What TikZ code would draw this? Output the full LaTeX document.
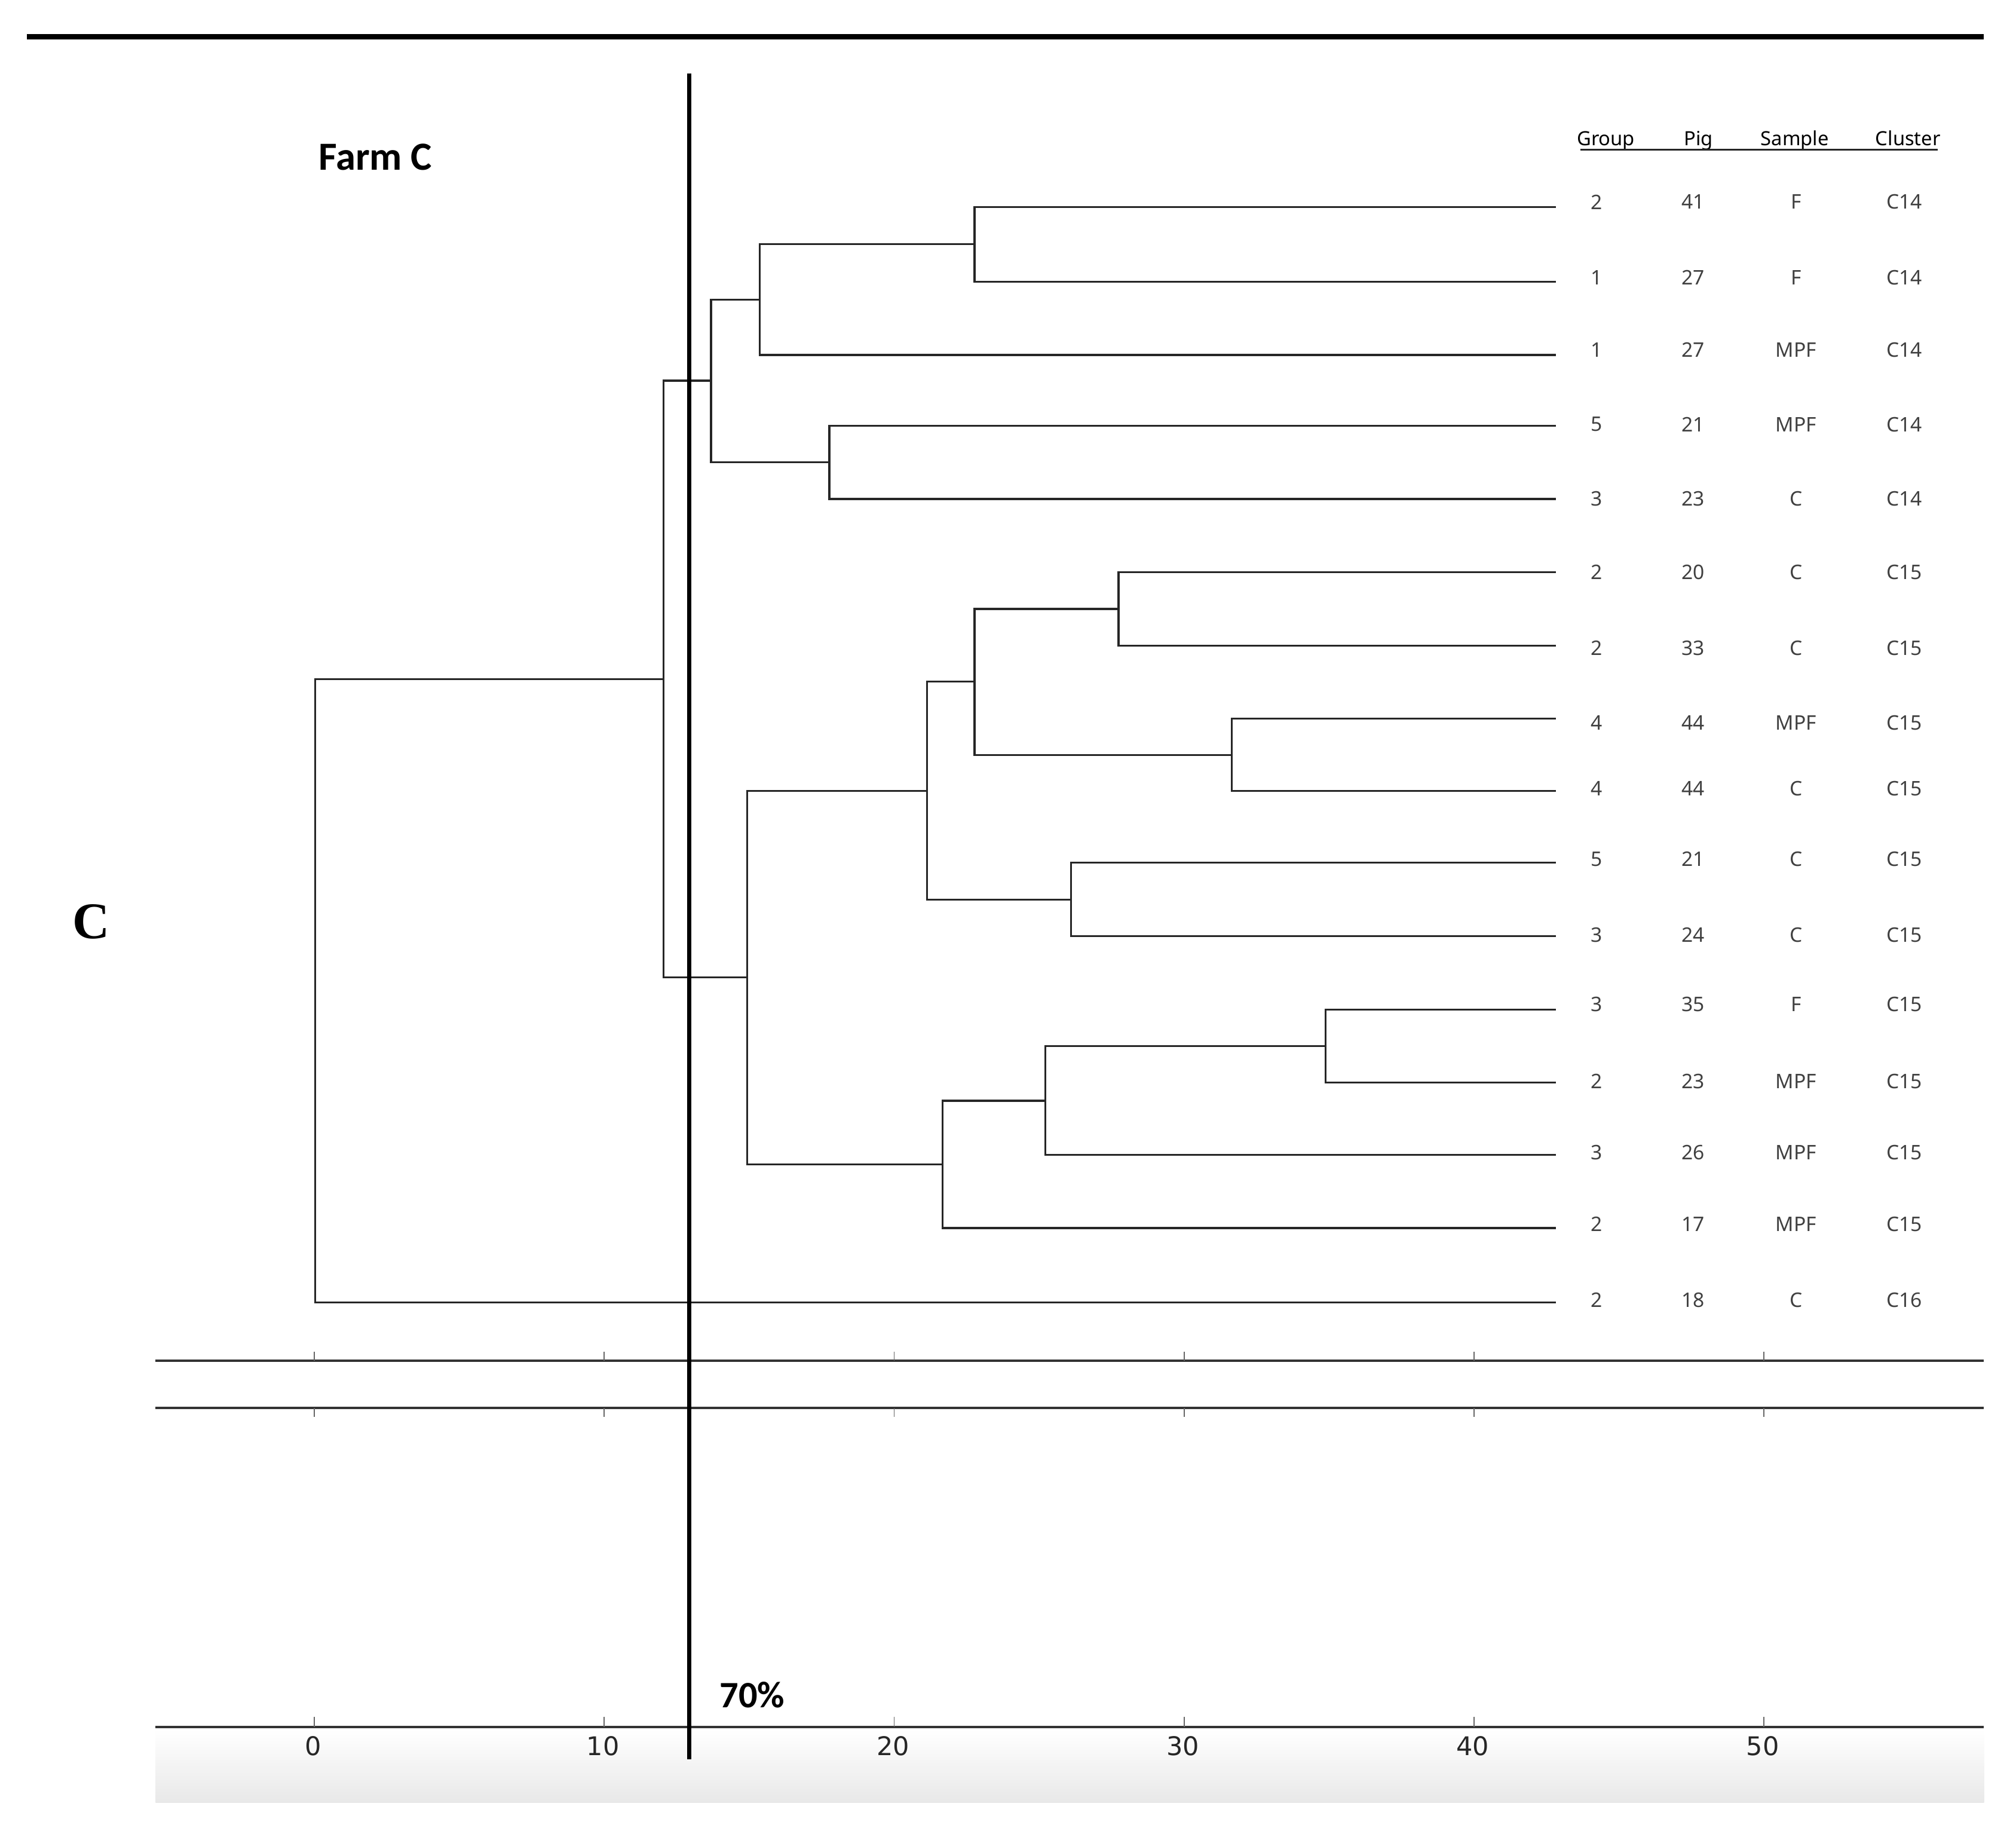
\documentclass[tikz,border=0pt]{standalone}
\usepackage{fontspec}
\newfontfamily\tabfont{Noto Sans}
\newfontfamily\titlefont{Carlito}
\newfontfamily\tickfont{DejaVu Sans}
\newfontfamily\serifC{Liberation Serif}
\begin{document}
\begin{tikzpicture}[x=0.5pt,y=-0.5pt,
  tree/.style={draw=black!85,line width=0.75pt},
  axisline/.style={draw=black!80,line width=0.9pt},
  tickmark/.style={draw=black!60,line width=0.4pt},
  cell/.style={inner sep=0pt,font=\tabfont\fontsize{7.8}{9}\selectfont,text=black!75},
  head/.style={inner sep=0pt,anchor=base,font=\tabfont\fontsize{7.6}{9}\selectfont,text=black},
  ticklab/.style={inner sep=0pt,font=\tickfont\fontsize{10}{12}\selectfont,text=black!85}]
\useasboundingbox (0,0) rectangle (1568,1426);
% bottom shading
\shade[top color=white,bottom color=black!9] (121,1345) rectangle (1543,1402);
% top rule
\draw[line width=2pt] (21,28.5) -- (1543,28.5);
% titles
\node[inner sep=0pt,font=\titlefont\bfseries\fontsize{15.5}{17}\selectfont] (farm) at (292,122) {Farm C};
\node[inner sep=0pt,font=\serifC\bfseries\fontsize{20}{22}\selectfont] (lblC) at (71,717) {C};
% header
\node[head] (hg) at (1249,113) {Group};
\node[head] (hp) at (1321,113) {Pig};
\node[head] (hs) at (1396,113) {Sample};
\node[head] (hc) at (1484,113) {Cluster};
\draw[line width=0.6pt,black!85] (1229,116.5) -- (1507,116.5);
% leaves
\foreach \i/\ly/\ty/\g/\p/\s/\c in {
 1/161/157/2/41/F/C14, 2/219/216/1/27/F/C14, 3/276/272/1/27/MPF/C14,
 4/331/330/5/21/MPF/C14, 5/388/388/3/23/C/C14, 6/445/445/2/20/C/C15,
 7/502/504/2/33/C/C15, 8/559/562/4/44/MPF/C15, 9/615/613/4/44/C/C15,
 10/671/668/5/21/C/C15, 11/728/727/3/24/C/C15, 12/785/781/3/35/F/C15,
 13/842/841/2/23/MPF/C15, 14/898/896/3/26/MPF/C15, 15/955/952/2/17/MPF/C15,
 16/1013/1011/2/18/C/C16}{
  \coordinate (L\i) at (1210,\ly);
  \node[cell] (g\i) at (1242,\ty) {\g};
  \node[cell] (p\i) at (1317,\ty) {\p};
  \node[cell] (s\i) at (1397,\ty) {\s};
  \node[cell] (c\i) at (1481,\ty) {\c};
}
% internal nodes
\coordinate (N1) at (758,190);
\coordinate (N2) at (591,233);
\coordinate (N3) at (645,359.5);
\coordinate (N4) at (553,296);
\coordinate (N5) at (870,473.5);
\coordinate (N6) at (958,587);
\coordinate (N7) at (758,530);
\coordinate (N8) at (833,699.5);
\coordinate (N9) at (721,615);
\coordinate (N10) at (1031,813.5);
\coordinate (N11) at (813,856);
\coordinate (N12) at (733,905.5);
\coordinate (N13) at (581,760);
\coordinate (N14) at (516,528);
\coordinate (N15) at (245,770.5);
\draw[tree] (N1) |- (L1) (N1) |- (L2);
\draw[tree] (N2) |- (N1) (N2) |- (L3);
\draw[tree] (N3) |- (L4) (N3) |- (L5);
\draw[tree] (N4) |- (N2) (N4) |- (N3);
\draw[tree] (N5) |- (L6) (N5) |- (L7);
\draw[tree] (N6) |- (L8) (N6) |- (L9);
\draw[tree] (N7) |- (N5) (N7) |- (N6);
\draw[tree] (N8) |- (L10) (N8) |- (L11);
\draw[tree] (N9) |- (N7) (N9) |- (N8);
\draw[tree] (N10) |- (L12) (N10) |- (L13);
\draw[tree] (N11) |- (N10) (N11) |- (L14);
\draw[tree] (N12) |- (N11) (N12) |- (L15);
\draw[tree] (N13) |- (N9) (N13) |- (N12);
\draw[tree] (N14) |- (N4) (N14) |- (N13);
\draw[tree] (N15) |- (N14) (N15) |- (L16);
% axis lines
\draw[axisline] (121,1058) -- (1543,1058);
\draw[axisline] (121,1095) -- (1543,1095);
\draw[axisline] (121,1343) -- (1543,1343);
\foreach \v/\x in {0/244.5,10/470,20/695.5,30/921,40/1146.5,50/1372}{
  \draw[tickmark] (\x,1051) -- (\x,1058);
  \draw[tickmark] (\x,1095) -- (\x,1102);
  \draw[tickmark] (\x,1335) -- (\x,1343);
  \node[ticklab] (t\v) at (\x-1,1358) {\v};
}
% 70% cut line
\draw[line width=1.8pt] (536,57) -- (536,1368);
\node[inner sep=0pt,font=\titlefont\bfseries\fontsize{14.5}{16}\selectfont] (pct) at (585,1318) {70\%};
\end{tikzpicture}
\end{document}
